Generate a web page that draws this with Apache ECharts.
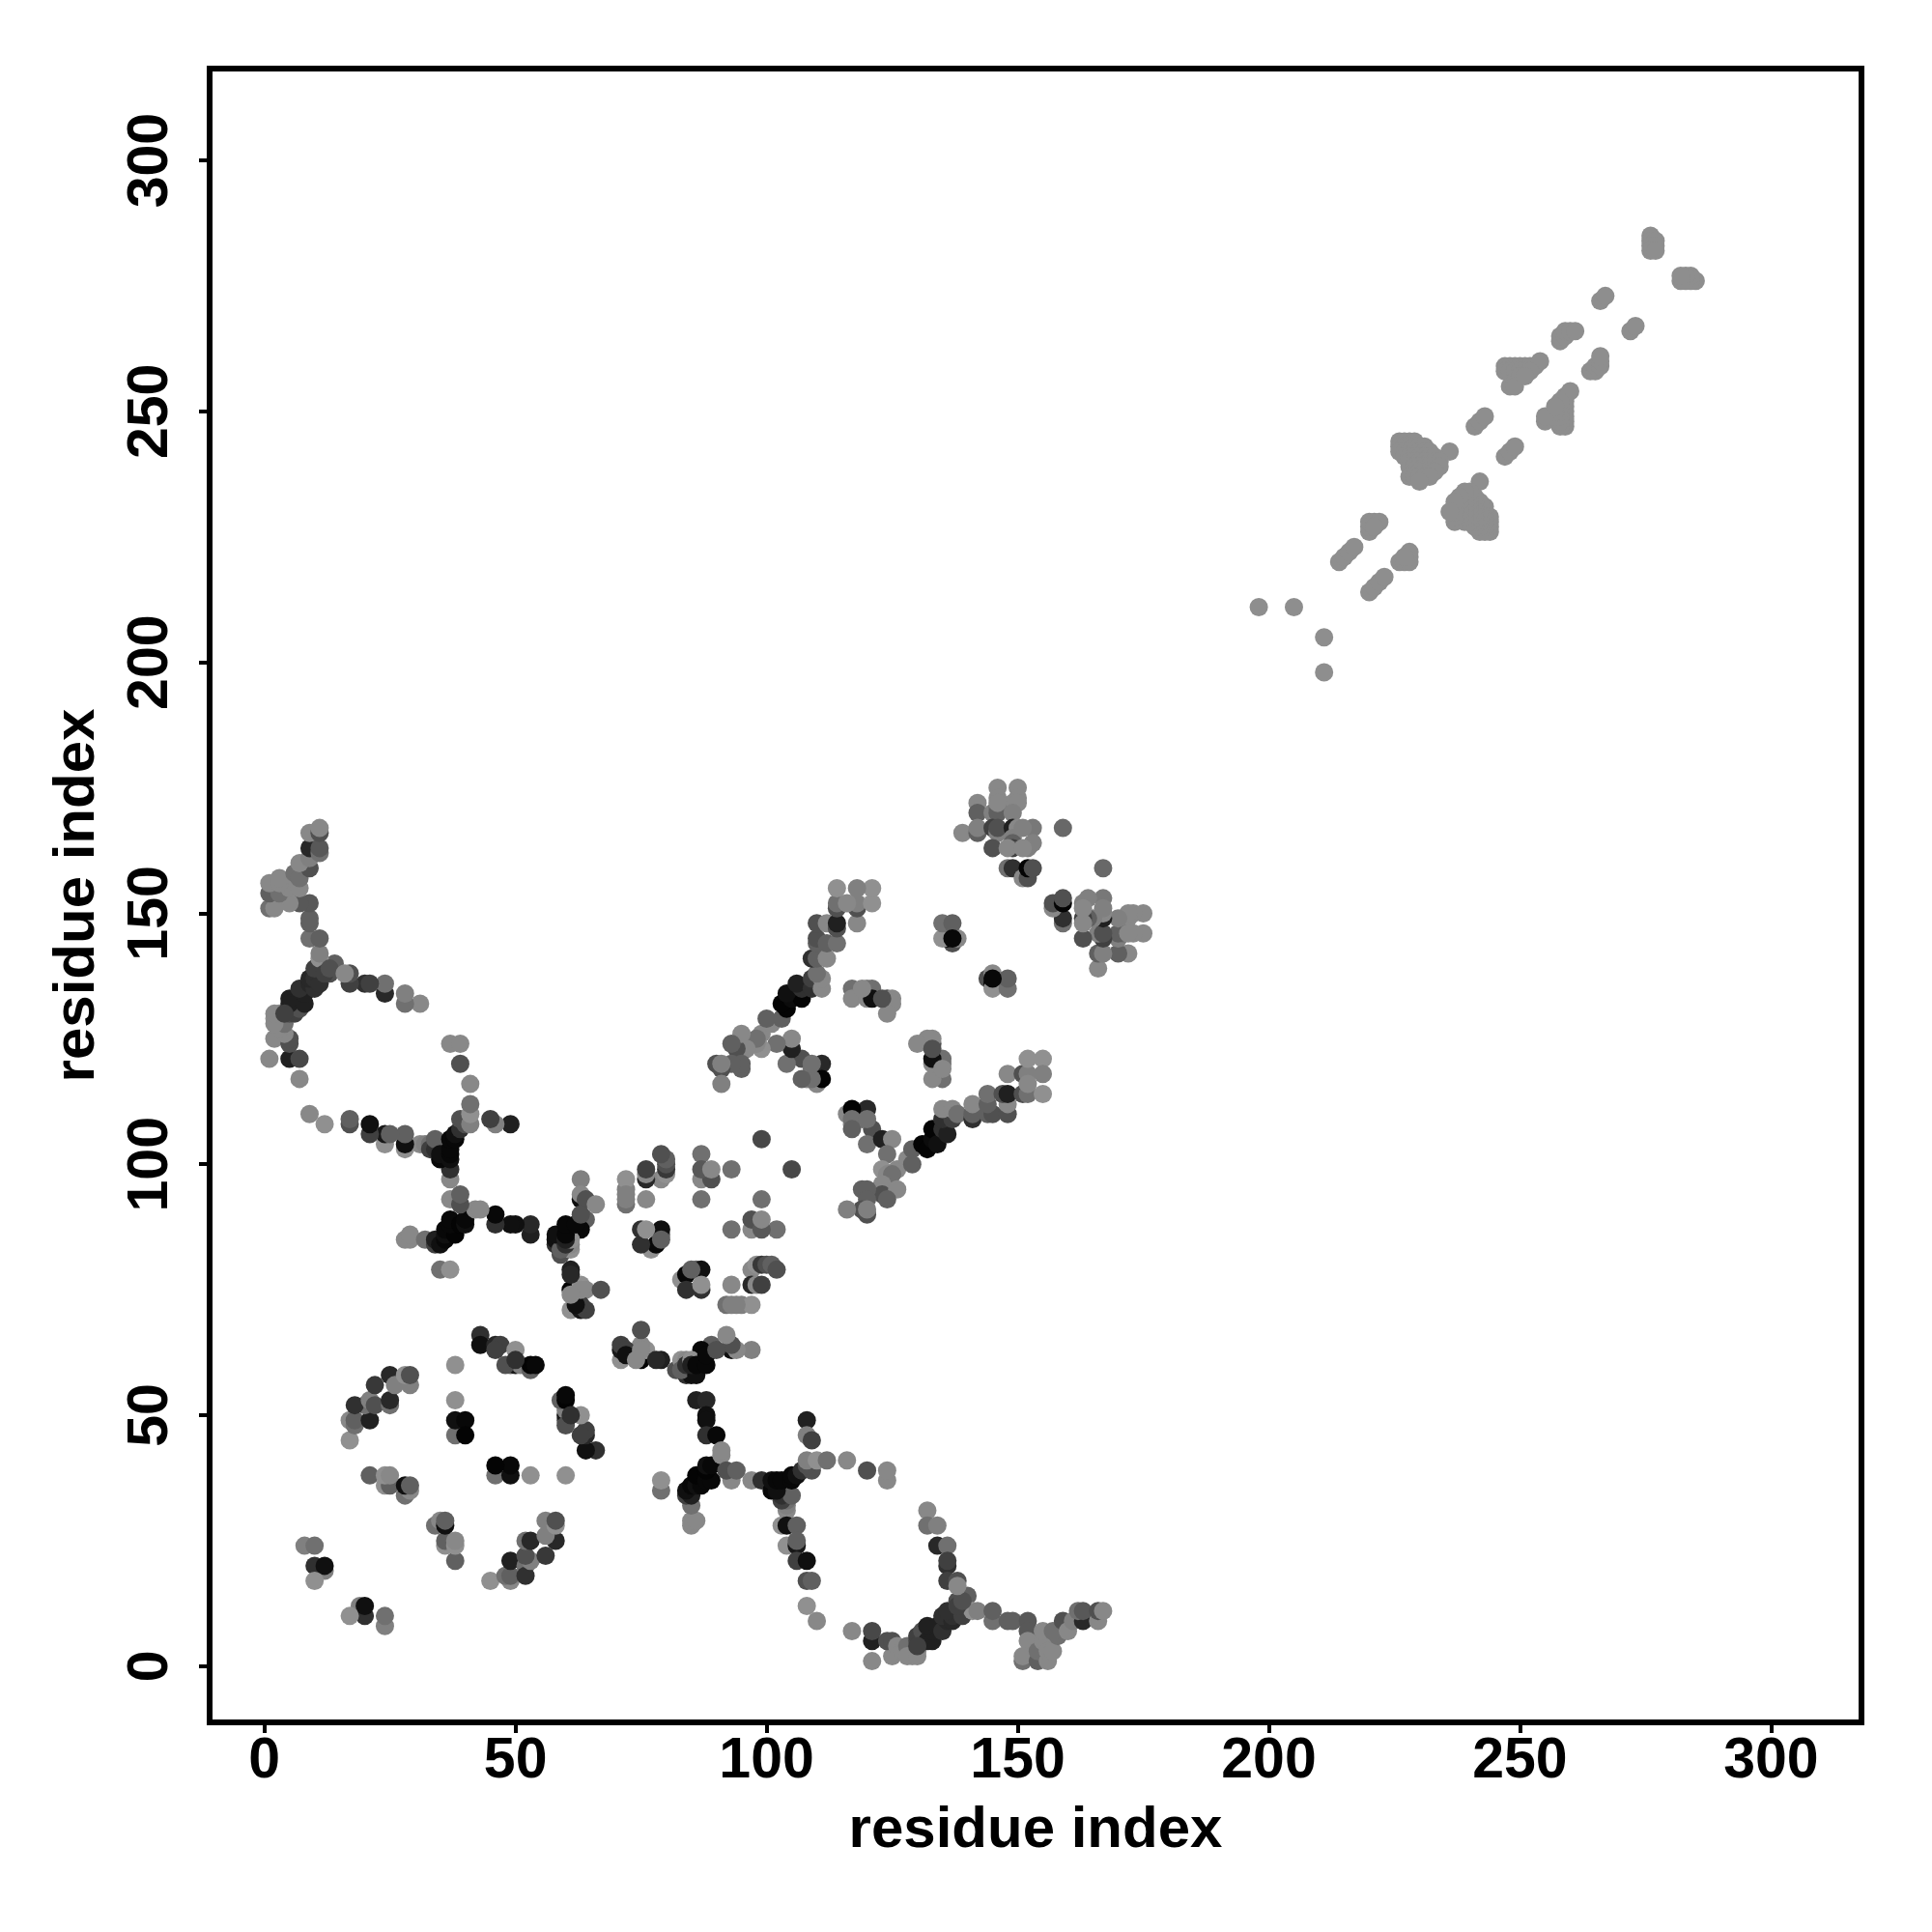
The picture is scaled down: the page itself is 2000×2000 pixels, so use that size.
<!DOCTYPE html>
<html><head><meta charset="utf-8">
<style>html,body{margin:0;padding:0;background:#fff}#c{width:2000px;height:2000px}</style>
<script src="https://cdn.jsdelivr.net/npm/echarts@6/dist/echarts.min.js"></script>
</head><body><div id="c"></div>
<script>
const tickValues = [0, 50, 100, 150, 200, 250, 300];
const axisTitle = 'residue index';
const farGrey = 0x8e;
// contacts in the far domain: [i, j], all the same grey
const farContacts = [
[198,211],[205,211],[211,205],[211,198],
[276,285],[276,284],[277,284],[276,283],[277,283],[276,282],[277,282],
[266,272],[267,273],[258,264],[258,265],[259,265],[259,266],[260,266],[261,266],
[247,259],[248,259],[249,259],[250,259],[251,259],[252,259],[253,259],[254,260],
[247,258],[248,258],[249,258],[250,258],[251,258],[252,258],[248,255],[249,256],[250,257],[249,255],[251,257],
[241,247],[242,248],[243,249],
[226,244],[227,244],[228,244],[229,244],[226,243],[227,243],[228,243],[229,243],[230,243],[231,243],
[226,242],[227,242],[228,242],[229,242],[230,242],[231,242],[232,242],[236,242],
[227,241],[228,241],[229,241],[230,241],[231,241],[232,241],[233,241],
[228,240],[229,240],[230,240],[231,240],[232,240],[233,240],[234,240],
[228,239],[229,239],[230,239],[231,239],[232,239],[233,239],[234,239],
[229,238],[230,238],[231,238],[232,238],[233,238],[228,237],[229,237],[230,237],[231,237],[232,237],[230,236],
[220,226],[220,227],[220,228],[221,228],[222,228],[221,227],
[220,214],[221,215],[222,216],[223,217]
];
// contacts in the near domain: [i, j, grey level]
const lowerLeft = [
[35,79,0x70],[37,79,0x90],[8,24,0x80],[10,24,0x70],[12,19,0x80],[10,20,0x30],[12,20,0x10],[10,17,0x90],
[19,12,0x80],[17,10,0x90],[20,10,0x30],[20,12,0x10],[24,8,0x90],[24,10,0x70],
[17,45,0x90],[17,49,0x88],[18,48,0x70],[18,49,0x60],[21,49,0x20],[20,52,0x70],[18,52,0x30],[21,53,0x80],[22,52,0x50],
[22,56,0x38],[25,52,0x70],[25,53,0x28],[25,58,0x28],[26,56,0x80],[29,56,0x80],[28,58,0x90],[29,58,0x50],
[21,38,0x60],[24,36,0x90],[25,36,0x60],[24,38,0x90],[25,38,0x88],[28,34,0x70],[29,35,0x88],[28,36,0x10],[29,36,0x60],
[34,28,0x80],[35,29,0x90],[36,28,0x18],[36,29,0x60],[38,24,0x90],[36,25,0x60],[38,25,0x88],[38,21,0x50],
[45,17,0x90],[48,18,0x80],[49,17,0x90],[49,18,0x60],[49,21,0x28],[52,18,0x30],[52,25,0x80],[53,25,0x28],[52,22,0x60],[53,21,0x70],[56,22,0x40],
[56,29,0x88],[58,28,0x90],[58,29,0x50],[56,26,0x80],[58,25,0x20],
[38,60,0x90],[38,53,0x90],[38,46,0x70],[38,49,0x10],[40,49,0x08],[40,46,0x04],
[43,66,0x30],[43,64,0x10],[46,64,0x28],[47,64,0x40],[50,63,0x90],[49,60,0x60],[50,60,0x18],[51,60,0x80],[53,59,0x60],[53,60,0x04],[54,60,0x08],
[59,53,0x80],[60,48,0x50],[60,49,0x10],[61,50,0x30],[60,50,0x70],[60,53,0x08],[60,54,0x04],[63,50,0x90],[63,46,0x40],[64,46,0x10],[64,47,0x40],[64,43,0x10],[66,43,0x38],
[46,38,0x60],[49,38,0x10],[46,40,0x04],[49,40,0x04],[53,38,0x90],[60,38,0x90],
[79,37,0x90],[79,35,0x60]
];
const middle = [
[61,79,0x20],[61,75,0x04],[63,76,0x90],[64,75,0x88],[67,75,0x50],[61,71,0x90],[63,71,0x18],[64,71,0x40],
[75,67,0x50],[71,64,0x50],[72,63,0x40],[71,61,0x90],[72,62,0x10],[75,63,0x88],[76,63,0x70],[74,61,0x88],[75,61,0x04],[78,61,0x28],[79,61,0x20],
[83,77,0x90],[84,78,0x08],[86,79,0x60],[87,79,0x10],[84,75,0x30],[87,75,0x30],[87,76,0x90],[93,76,0x88],
[92,72,0x70],[93,72,0x80],[95,72,0x80],[97,72,0x90],
[97,79,0x88],[98,80,0x90],[97,76,0x28],[98,76,0x88],[99,76,0x40],[99,80,0x38],[100,80,0x50],[101,80,0x60],[102,79,0x50],
[63,97,0x80],[63,93,0x10],[63,94,0x88],[64,93,0x50],[66,92,0x88],[64,89,0x60],[60,87,0x04],[61,87,0x04],[63,87,0x08],[59,82,0x50],[58,84,0x30],[58,85,0x10],[61,83,0x90],[61,84,0x88],[61,86,0x08],
[72,97,0x88],[72,94,0x80],[72,92,0x70],[76,93,0x88],[76,97,0x30],[76,99,0x48],[79,97,0x70],[80,98,0x20],[79,102,0x50],[80,100,0x50],[80,101,0x58],
[87,102,0x70],[87,97,0x88],[89,97,0x50],[87,99,0x58],[89,99,0x88],[87,93,0x70],[93,99,0x70],
[99,105,0x48],[105,99,0x50],[99,93,0x70],[93,87,0x70],[97,87,0x88],[99,87,0x50],[97,89,0x68],[99,89,0x88],[102,87,0x70],
[75,87,0x28],[76,87,0x88],[79,87,0x10],[79,85,0x60],[75,84,0x40],[77,83,0x88],[78,84,0x08]
];
const lowerRight = [
[83,59,0x60],[84,58,0x40],[83,61,0x90],[84,60,0x30],[85,61,0x90],[85,58,0x20],[86,58,0x10],[85,60,0x20],[86,60,0x08],[87,61,0x04],[88,60,0x08],[87,63,0x08],[88,62,0x08],
[89,64,0x60],[90,63,0x50],[92,66,0x80],[93,63,0x30],[93,64,0x50],[94,63,0x88],[97,63,0x88],
[86,53,0x20],[88,53,0x28],[88,50,0x10],[88,49,0x10],[88,46,0x30],[90,46,0x08],
[85,28,0x88],[85,29,0x88],[86,29,0x88],[85,32,0x70],[84,34,0x40],[85,34,0x20],[84,35,0x10],[85,36,0x08],[86,36,0x10],[87,36,0x08],[86,38,0x04],[88,37,0x08],[89,37,0x08],[88,39,0x04],[88,40,0x10],[89,40,0x08],
[91,42,0x88],[91,43,0x88],[93,37,0x88],[92,39,0x50],[94,39,0x60],[97,37,0x88],[99,37,0x30],
[103,28,0x90],[104,31,0x88],[104,32,0x80],[104,33,0x70],[103,33,0x40],[103,34,0x30],[105,34,0x60],
[101,35,0x08],[102,35,0x10],[101,37,0x10],[102,37,0x08],[103,37,0x08],[105,37,0x08],[105,38,0x08],[106,38,0x10],[107,39,0x30],[109,39,0x50],[108,40,0x50],[108,41,0x80],[110,41,0x90],[112,41,0x70],
[116,41,0x88],[120,39,0x50],[124,37,0x88],[124,39,0x88],
[104,28,0x10],[106,28,0x60],[104,24,0x90],[106,24,0x18],[106,25,0x60],[106,21,0x40],[108,21,0x10],[108,17,0x50],[109,17,0x60],[108,12,0x90],[110,9,0x88],
[108,49,0x20],[108,46,0x80],[109,45,0x40],
[117,7,0x88],[121,5,0x20],[121,7,0x48],[121,1,0x88],[125,2,0x88],[124,5,0x50],[125,5,0x50],[126,4,0x88],[127,3,0x88],[128,4,0x70],[129,2,0x90],[130,3,0x88],[130,5,0x50],[130,6,0x40],[131,7,0x50],
[133,5,0x20],[132,5,0x20],[133,7,0x20],[132,8,0x20],[134,8,0x20],[135,7,0x30],[136,9,0x28],[135,10,0x30],[137,9,0x28],[137,10,0x30],[136,11,0x30],[139,10,0x40],[138,13,0x50],[140,14,0x60],
[132,31,0x88],[132,28,0x70],[134,28,0x80],[134,24,0x28],[136,24,0x70],[136,20,0x30],[136,21,0x40],[136,17,0x40],[138,17,0x50],
[141,11,0x90],[142,11,0x80],[145,9,0x70],[145,11,0x60],[148,9,0x60],[149,9,0x60],
[152,9,0x58],[152,7,0x58],[152,5,0x88],[151,1,0x70],[151,2,0x88],[154,1,0x60],[154,3,0x70],[155,5,0x88],[155,7,0x88],[156,1,0x88],[156,3,0x88],[157,3,0x88],[158,6,0x70],[157,7,0x70],[159,9,0x50],[160,7,0x88],
[161,9,0x80],[163,9,0x28],[162,11,0x70],[163,11,0x58],[166,9,0x88],[166,11,0x50],[167,11,0x88]
];
const upperMiddle = [
[117,135,0x70],[117,133,0x88],[120,135,0x80],[121,135,0x70],[120,133,0x88],[121,133,0x10],[124,133,0x50],[125,133,0x88],[125,132,0x88],[124,130,0x88],
[107,121,0x50],[109,119,0x70],[111,120,0x28],[108,117,0x88],[110,116,0x88],[111,117,0x04],
[130,124,0x80],[132,125,0x88],[133,125,0x80],[133,123,0x50],[133,120,0x40],[133,121,0x10],[135,119,0x88],[135,121,0x70],[133,117,0x88],[135,117,0x60],
[116,110,0x88],[117,111,0x04],[120,111,0x30],[117,109,0x70],[120,109,0x70],[117,107,0x60],[121,107,0x40],[120,104,0x70],[123,105,0x20],[125,105,0x88],[124,102,0x70],
[123,99,0x90],[124,98,0x88],[126,99,0x88],[125,98,0x70],[128,101,0x88],[129,103,0x60],[129,100,0x60],[123,96,0x88],[123,94,0x50],[126,95,0x88],[124,93,0x60],
[119,95,0x60],[120,95,0x60],[120,93,0x60],[120,90,0x50],[119,91,0x50],[120,91,0x80],[116,91,0x80],
[131,104,0x04],[132,103,0x04],[133,105,0x0c],[133,107,0x04],[134,104,0x10],[135,107,0x30],[136,106,0x20],[135,109,0x30],[137,109,0x40],[135,111,0x88],[137,111,0x88],[138,110,0x70],
[141,109,0x30],[141,110,0x60],[141,112,0x88],[144,110,0x60],[145,110,0x50],[144,112,0x60],[144,114,0x70],
[148,110,0x50],[148,112,0x88],[147,114,0x50],[148,114,0x20],[148,118,0x88],[151,118,0x50],[152,118,0x80],[151,114,0x50],[152,114,0x70],[152,116,0x88],
[152,121,0x90],[155,121,0x90],[155,118,0x80],[155,114,0x90],
[144,137,0x50],[145,136,0x08],[145,138,0x88],[145,135,0x90],[148,135,0x70],[148,137,0x60],[166,139,0x88],
[135,148,0x60],[137,148,0x58],[137,144,0x50],[135,145,0x88],[137,145,0x08],[138,145,0x88]
];
const upperRight = [
[146,175,0x88],[150,175,0x88],[146,173,0x88],[150,173,0x88],[142,172,0x88],[149,172,0x88],[150,172,0x88],
[142,170,0x60],[145,170,0x80],[146,171,0x70],[146,170,0x60],[149,170,0x80],
[139,166,0x88],[142,166,0x60],[142,167,0x80],[145,167,0x40],[146,166,0x80],[146,167,0x50],[149,167,0x20],[150,167,0x88],[153,167,0x78],
[149,165,0x80],[149,164,0x60],[145,163,0x50],[149,163,0x40],[148,163,0x88],[153,164,0x80],[152,163,0x80],
[159,167,0x68],[148,159,0x70],[149,159,0x30],[151,157,0x88],[152,157,0x50],[152,159,0x04],[153,159,0x50],[167,159,0x60],
[157,151,0x88],[159,152,0x10],[159,153,0x50],[159,148,0x60],[159,149,0x38],
[163,151,0x88],[164,153,0x88],[167,153,0x80],[163,148,0x88],[163,149,0x60],[163,145,0x60],[167,151,0x80],[167,149,0x50],[166,146,0x88],[167,145,0x50],[167,146,0x50],[166,142,0x60],[167,142,0x80],
[170,146,0x70],[170,149,0x80],[172,150,0x88],[175,150,0x88],[172,146,0x88],[175,146,0x88],[170,142,0x88],[172,142,0x88]
];
const upperLeft = [
[9,166,0x88],[11,166,0x40],[11,167,0x88],[9,163,0x28],[11,162,0x70],[11,163,0x60],[7,160,0x88],[9,159,0x50],[6,158,0x88],[7,157,0x80],[3,157,0x88],[1,156,0x88],[5,155,0x80],[7,155,0x88],[1,154,0x80],[1,151,0x88],[2,151,0x88],[5,152,0x88],[7,152,0x60],[9,152,0x50],
[9,148,0x60],[9,149,0x60],[9,145,0x70],[11,145,0x60],[11,141,0x78],[11,142,0x78],[12,138,0x40],[13,139,0x50],[14,140,0x70],
[16,138,0x88],[17,136,0x40],[17,138,0x58],[20,136,0x40],[21,136,0x48],[24,134,0x10],[24,136,0x68],[28,132,0x60],[28,134,0x70],[31,132,0x88],
[37,124,0x80],[39,124,0x88],[39,120,0x48],[41,116,0x88],
[1,121,0x88],[5,121,0x18],[7,121,0x40],[7,117,0x88],[2,125,0x70],[5,124,0x50],[5,125,0x38],[2,128,0x88],[2,130,0x88],[3,130,0x88],[4,130,0x40],[5,130,0x50],[6,130,0x50]
];
// every contact appears on both sides of the diagonal
const contacts = [];
const seen = new Set();
function add(i, j, g) {
  const k = i + '_' + j;
  if (seen.has(k)) return;
  seen.add(k);
  const h = g.toString(16).padStart(2, '0');
  contacts.push({ value: [i, j], itemStyle: { color: '#' + h + h + h, opacity: 1 } });
}
for (const c of farContacts) { add(c[0], c[1], farGrey); }
for (const c of farContacts) { add(c[1], c[0], farGrey); }
for (const list of [lowerLeft, middle, lowerRight, upperMiddle, upperRight, upperLeft]) {
  for (const c of list) { add(c[0], c[1], c[2]); add(c[1], c[0], c[2]); }
}
const labelFont = { color: '#000', fontFamily: 'Liberation Sans', fontWeight: 'bold', fontSize: 59 };
const titleFont = { color: '#000', fontFamily: 'Liberation Sans', fontWeight: 'bold', fontSize: 60 };
function axis(extra) {
  return Object.assign({
    type: 'value',
    name: axisTitle,
    nameLocation: 'middle',
    nameTextStyle: titleFont,
    splitLine: { show: false },
    axisLine: { show: false, onZero: false },
    axisTick: { show: true, length: 11, lineStyle: { color: '#000', width: 4 }, customValues: tickValues },
    axisLabel: Object.assign({}, labelFont, { customValues: tickValues, margin: 11 })
  }, extra);
}
const chart = echarts.init(document.getElementById('c'), null, { renderer: 'canvas' });
chart.setOption({
  animation: false,
  backgroundColor: '#fff',
  grid: { left: 217, right: 73, top: 71, bottom: 217, show: true, borderColor: '#000', borderWidth: 6, backgroundColor: 'transparent' },
  xAxis: axis({ min: -10.9, max: 318, nameGap: 82 }),
  yAxis: axis({ min: -11.2, max: 318.3, nameGap: 107,
    axisLabel: Object.assign({}, labelFont, { customValues: tickValues, margin: 60, rotate: 90, verticalAlign: 'middle', align: 'center' }) }),
  series: [{ type: 'scatter', symbol: 'circle', symbolSize: 19, data: contacts, silent: true, itemStyle: { opacity: 1 } }]
});
</script></body></html>
